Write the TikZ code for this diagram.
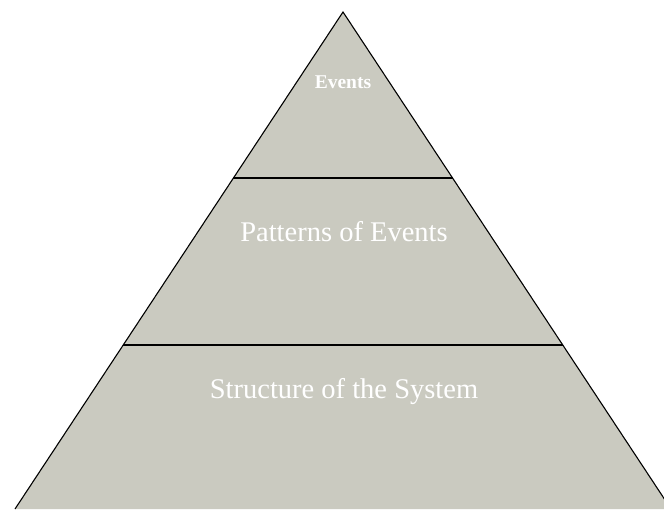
\documentclass[tikz,border=0pt]{standalone}
\usepackage{fontspec}
\setmainfont{Liberation Serif}
\usetikzlibrary{calc}
\definecolor{stone}{HTML}{CACAC0}
\begin{document}
\begin{tikzpicture}[x=1pt,y=-1pt,
  tier/.style={draw=black,line width=1.1pt},
  label/.style={text=white,inner sep=0pt,anchor=center}]
  \useasboundingbox (0,0) rectangle (664,509);
  \begin{scope}
    \clip (0,0) rectangle (664,509);
    % pyramid outline
    \coordinate (apex) at (343,12);
    \coordinate (bl) at (15,509);
    \coordinate (br) at (671,509);
    \fill[stone] (apex) -- (br) -- (bl) -- cycle;
    \draw[tier,line join=miter] (bl) -- (apex) -- (br);
    % tier separators
    \draw[tier] ($(apex)!0.3340!(bl)$) -- ($(apex)!0.3340!(br)$);
    \draw[tier] ($(apex)!0.6700!(bl)$) -- ($(apex)!0.6700!(br)$);
  \end{scope}
  \node[label,font=\bfseries\fontsize{19.5}{22}\selectfont] (top) at (343,82) {Events};
  \node[label,font=\fontsize{28.5}{32}\selectfont] (mid) at (344,232) {Patterns of Events};
  \node[label,font=\fontsize{28.5}{32}\selectfont] (low) at (344,392) {Structure of the System};
\end{tikzpicture}
\end{document}
